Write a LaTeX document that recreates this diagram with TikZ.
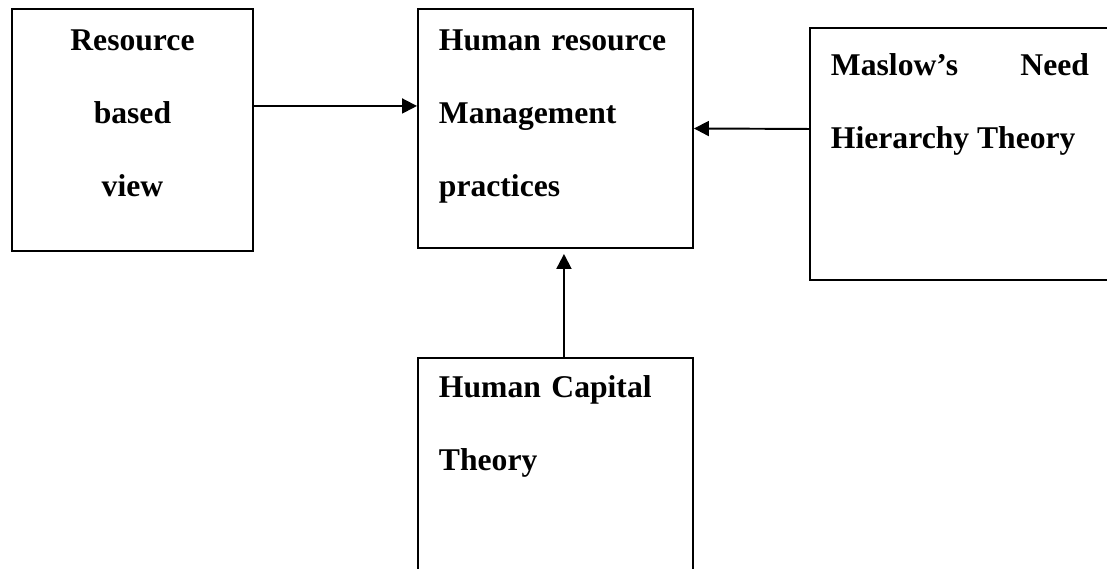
\documentclass[tikz,border=0pt]{standalone}
\usepackage{fontspec}
\setmainfont{Liberation Serif}
\usetikzlibrary{arrows.meta}
\tikzset{
  every picture/.style={line width=1.1pt},
  box/.style={draw, rectangle, anchor=north west, inner ysep=0pt, font=\bfseries\fontsize{18}{41.5}\selectfont},
  arrow/.style={-{Triangle[length=3mm, width=3mm]}, line width=1.1pt},
}

\begin{document}
\begin{tikzpicture}[cbox/.style={box, inner xsep=0pt, align=center, text width=#1}, lbox/.style={box, inner xsep=4.2mm, align=left, text width=#1}]
  \useasboundingbox (0,0) rectangle (22.14,-11.36);
  \clip (0,0) rectangle (22.14,-11.36);
  \node[cbox=4.82cm, text height=8.4mm, text depth=40mm] (rbv) at (0.22,-0.16) {Resource\\based\\view};
  \node[lbox=4.66cm, text height=8.4mm, text depth=39.4mm] (hrm) at (8.34,-0.16) {Human resource\\Management\\practices};
  \node[box, inner xsep=4.2mm, align=justify, text width=5.16cm, text height=9.6mm, text depth=40.8mm] (mas) at (16.18,-0.54) {Maslow's Need\linebreak Hierarchy Theory};
  \node[lbox=4.66cm, text height=8mm, text depth=44.6mm] (hcap) at (8.34,-7.14) {Human Capital\\Theory};
  \draw[arrow] ([yshift=4.8mm]rbv.east) -- ([yshift=4.5mm]hrm.west);
  \draw[arrow] ([yshift=5mm]mas.west) -- (hrm.east);
  \draw[arrow, shorten >=1mm] ([xshift=1.7mm]hcap.north) -- ([xshift=1.7mm]hrm.south);
\end{tikzpicture}
\end{document}
